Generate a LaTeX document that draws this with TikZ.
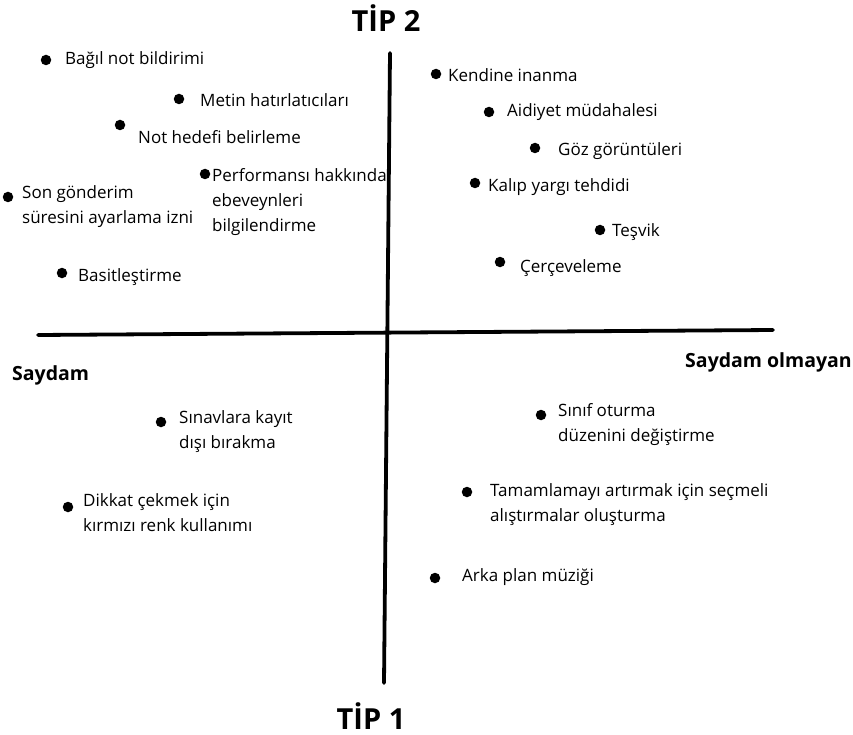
\documentclass[tikz,border=0pt]{standalone}
\usepackage{fontspec}
\setmainfont{Open Sans}
\begin{document}
\begin{tikzpicture}[x=1pt,y=-1pt,
  dot/.style={circle,fill=black,inner sep=0pt,minimum size=10.5pt},
  lbl/.style={anchor=west,inner sep=0pt,align=left,yshift=-2pt,font=\fontsize{17}{25}\selectfont},
  title/.style={inner sep=0pt,font=\fontsize{29}{32}\bfseries\selectfont},
  side/.style={inner sep=0pt,font=\fontsize{19.5}{22}\bfseries\selectfont},
  axis/.style={line width=3.8pt,line cap=round}]
\useasboundingbox (0,0) rectangle (853,735);
% axes
\coordinate (vtop) at (390,53);
\coordinate (vbot) at (384,683);
\coordinate (hl) at (38,335);
\coordinate (hr) at (773,330);
\draw[axis] (vtop) -- (vbot);
\draw[axis] (hl) -- (hr);
% titles
\node[title] (tip2) at (386,18) {TİP 2};
\node[title] (tip1) at (371,716) {TİP 1};
\node[side,anchor=west] (saydam) at (12,375) {Saydam};
\node[side,anchor=east] (olmayan) at (852,362) {Saydam olmayan};
% upper left
\node[dot] (d1) at (46,60) {};
\node[lbl] (t1) at (65,58) {Bağıl not bildirimi};
\node[dot] (d2) at (179,99) {};
\node[lbl] (t2) at (200,98) {Metin hatırlatıcıları};
\node[dot] (d3) at (120,125) {};
\node[lbl] (t3) at (138,135) {Not hedefi belirleme};
\node[dot] (d4) at (205,174) {};
\node[lbl] (t4) at (212,200) {Performansı hakkında\\ebeveynleri\\bilgilendirme};
\node[dot] (d5) at (8,197) {};
\node[lbl] (t5) at (22,205) {Son gönderim\\süresini ayarlama izni};
\node[dot] (d6) at (62,273) {};
\node[lbl] (t6) at (78,275) {Basitleştirme};
% upper right
\node[dot] (d7) at (436,74) {};
\node[lbl] (t7) at (448,73) {Kendine inanma};
\node[dot] (d8) at (489,112) {};
\node[lbl] (t8) at (507,110) {Aidiyet müdahalesi};
\node[dot] (d9) at (535,148) {};
\node[lbl] (t9) at (558,149) {Göz görüntüleri};
\node[dot] (d10) at (475,183) {};
\node[lbl] (t10) at (488,185) {Kalıp yargı tehdidi};
\node[dot] (d11) at (600,230) {};
\node[lbl] (t11) at (612,230) {Teşvik};
\node[dot] (d12) at (500,262) {};
\node[lbl] (t12) at (520,266) {Çerçeveleme};
% lower left
\node[dot] (d13) at (161,422) {};
\node[lbl] (t13) at (179,430) {Sınavlara kayıt\\dışı bırakma};
\node[dot] (d14) at (68,507) {};
\node[lbl] (t14) at (83,511) {Dikkat çekmek için\\kırmızı renk kullanımı};
% lower right
\node[dot] (d15) at (541,415) {};
\node[lbl] (t15) at (558,423) {Sınıf oturma\\düzenini değiştirme};
\node[dot] (d16) at (467,492) {};
\node[lbl] (t16) at (490,503) {Tamamlamayı artırmak için seçmeli\\alıştırmalar oluşturma};
\node[dot] (d17) at (435,578) {};
\node[lbl] (t17) at (462,575) {Arka plan müziği};
\end{tikzpicture}
\end{document}
